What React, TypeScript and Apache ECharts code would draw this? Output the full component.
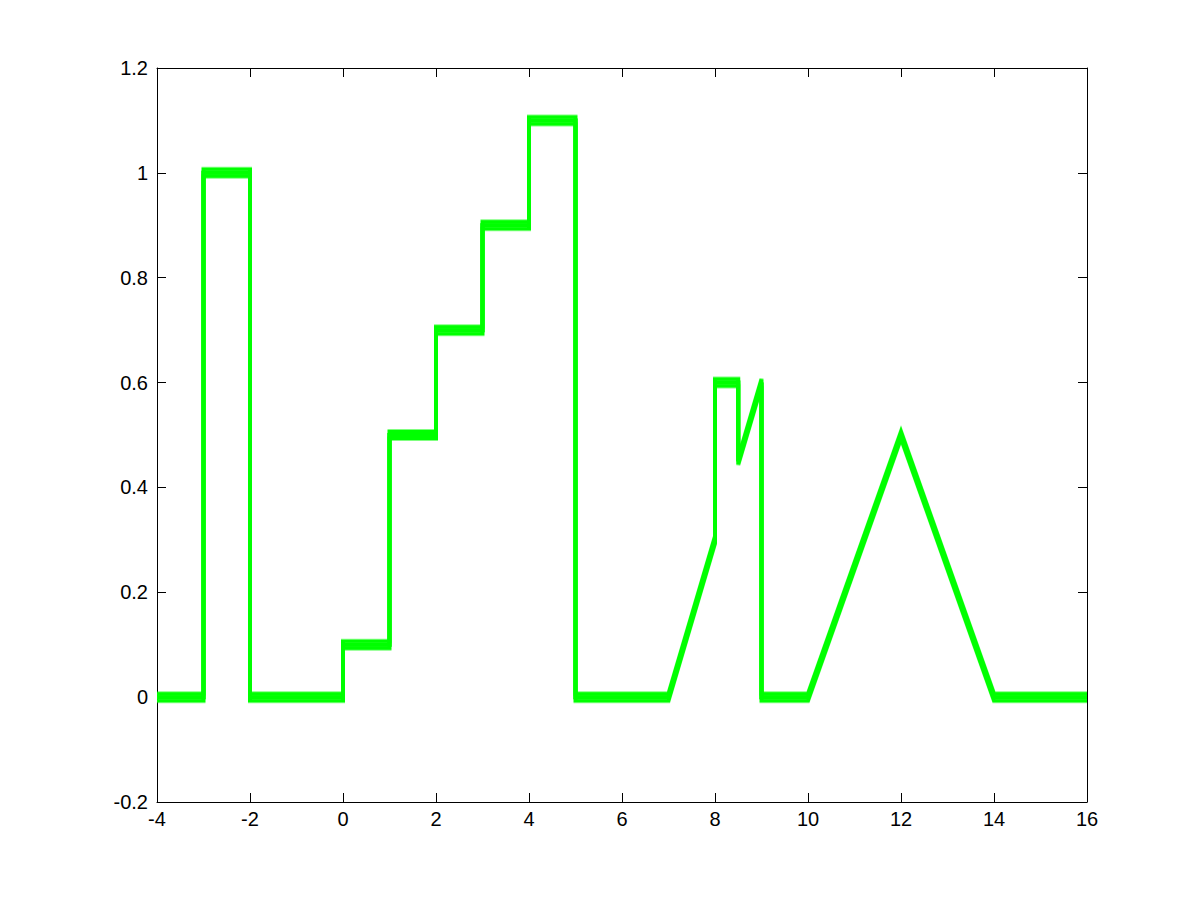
import React, { useEffect, useRef } from "react";
import * as echarts from "echarts";

// Breakpoints of the signal (x positions, repeated x means a vertical jump)
const xValues = [-4, -3, -3, -2, -2, 0, 0, 1, 1, 2, 2, 3, 3, 4, 4, 5, 5, 7, 8, 8, 8.5, 8.5, 9, 9, 10, 12, 14, 16];
const yValues = [0, 0, 1, 1, 0, 0, 0.1, 0.1, 0.5, 0.5, 0.7, 0.7, 0.9, 0.9, 1.1, 1.1, 0, 0, 0.3, 0.6, 0.6, 0.45, 0.6, 0, 0, 0.5, 0, 0];

const xMin = -4, xMax = 16, xStep = 2;
const yMin = -0.2, yMax = 1.2, yStep = 0.2;

export default function App() {
  const ref = useRef<HTMLDivElement>(null);
  useEffect(() => {
    const chart = echarts.init(ref.current!, null, { renderer: "svg" });
    const data = xValues.map((x, i) => [x, yValues[i]]);
    const font = { fontFamily: "Liberation Sans, Arial, sans-serif", fontSize: 20, color: "#000" };
    const axisLine = { show: true, onZero: false, lineStyle: { color: "#000", width: 1 } };
    const axisTick = { show: true, inside: true, length: 9, lineStyle: { color: "#000", width: 1 } };
    const fmtY = (v: number) => {
      const r = Math.round(v * 10) / 10;
      return r === 0 ? "0" : String(r);
    };
    const mkSeries = (dy: number) => ({
      type: "line",
      data,
      showSymbol: false,
      symbol: "none",
      silent: true,
      lineStyle: {
        color: "#00ff00",
        width: 4,
        join: "miter",
        shadowColor: "#00ff00",
        shadowBlur: 0,
        shadowOffsetX: 0,
        shadowOffsetY: dy,
      },
    });
    chart.setOption({
      animation: false,
      backgroundColor: "#fff",
      grid: { left: 157, right: 114, top: 68, bottom: 99, containLabel: false },
      xAxis: [
        {
          type: "value", min: xMin, max: xMax, interval: xStep, position: "bottom",
          axisLine, axisTick, splitLine: { show: false },
          axisLabel: { ...font, margin: 7 },
        },
        {
          type: "value", min: xMin, max: xMax, interval: xStep, position: "top",
          axisLine, axisTick, splitLine: { show: false }, axisLabel: { show: false },
        },
      ],
      yAxis: [
        {
          type: "value", min: yMin, max: yMax, interval: yStep, position: "left",
          axisLine, axisTick, splitLine: { show: false },
          axisLabel: { ...font, margin: 9, formatter: fmtY },
        },
        {
          type: "value", min: yMin, max: yMax, interval: yStep, position: "right",
          axisLine, axisTick, splitLine: { show: false }, axisLabel: { show: false },
        },
      ],
      series: [mkSeries(3.5), mkSeries(-3.5)],
    });
    return () => chart.dispose();
  }, []);
  return (
    <div
      ref={ref}
      style={{ position: "absolute", left: 0, top: 0, width: 1201, height: 901 }}
    />
  );
}
